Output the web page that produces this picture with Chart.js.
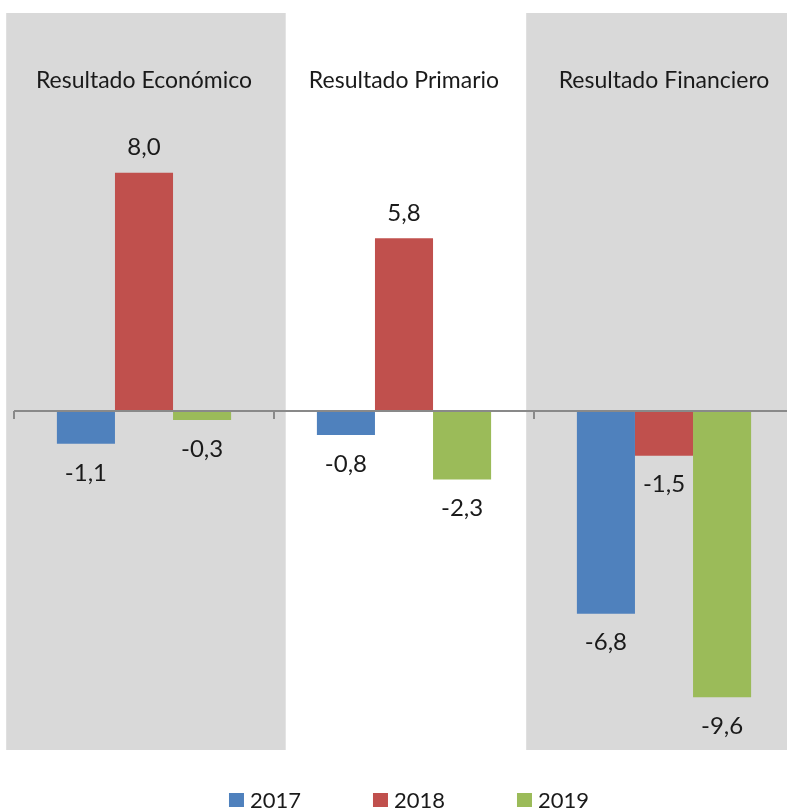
<!DOCTYPE html>
<html>
<head>
<meta charset="utf-8">
<script src="https://cdn.jsdelivr.net/npm/chart.js@4/dist/chart.umd.min.js"></script>
<style>
  html, body { margin: 0; padding: 0; background: #ffffff; overflow: hidden; }
  #wrap { width: 818px; height: 808px; position: relative; }
</style>
</head>
<body>
<div id="wrap"><canvas id="c"></canvas></div>
<script>
const categories = ["Resultado Económico", "Resultado Primario", "Resultado Financiero"];
const seriesNames = ["2017", "2018", "2019"];
const values2017 = [-1.1, -0.8, -6.8];
const values2018 = [8.0, 5.8, -1.5];
const values2019 = [-0.3, -2.3, -9.6];
const shadedCategories = [0, 2];

const colors = ["#4F81BD", "#C0504D", "#9BBB59"];
const FONT = "Lato, 'Noto Sans', sans-serif";

const fmt = v => v.toFixed(1).replace('.', ',');

const panelPlugin = {
  id: 'panels',
  beforeDatasetsDraw(chart) {
    const { ctx, chartArea, scales } = chart;
    const x = scales.x;
    const w = x.getPixelForValue(1) - x.getPixelForValue(0);
    ctx.save();
    ctx.fillStyle = '#D9D9D9';
    shadedCategories.forEach(i => {
      const c = x.getPixelForValue(i);
      ctx.fillRect(c - w * 0.53, chartArea.top + 1, w * 1.075, chartArea.bottom - chartArea.top);
    });
    // category titles
    ctx.fillStyle = '#1a1a1a';
    ctx.font = "23px " + FONT;
    ctx.textAlign = 'center';
    ctx.textBaseline = 'middle';
    categories.forEach((lab, i) => {
      ctx.fillText(lab, x.getPixelForValue(i), chartArea.top + 69);
    });
    ctx.restore();
  },
  afterDatasetsDraw(chart) {
    const { ctx, chartArea, scales } = chart;
    const x = scales.x, y = scales.y;
    const y0 = y.getPixelForValue(0);
    const w = x.getPixelForValue(1) - x.getPixelForValue(0);
    ctx.save();
    ctx.strokeStyle = '#898989';
    ctx.lineWidth = 2;
    ctx.beginPath();
    ctx.moveTo(chartArea.left, y0);
    ctx.lineTo(chartArea.right, y0);
    for (let i = 0; i <= categories.length; i++) {
      const bx = x.getPixelForValue(0) - w / 2 + i * w;
      ctx.moveTo(bx, y0);
      ctx.lineTo(bx, y0 + 8);
    }
    ctx.stroke();
    // data labels
    ctx.fillStyle = '#1a1a1a';
    ctx.font = "24px " + FONT;
    ctx.textAlign = 'center';
    ctx.textBaseline = 'middle';
    chart.data.datasets.forEach((ds, di) => {
      const meta = chart.getDatasetMeta(di);
      meta.data.forEach((bar, i) => {
        const v = ds.data[i];
        const ty = v >= 0 ? bar.y - 25 : bar.y + 29;
        ctx.fillText(fmt(v), bar.x, ty);
      });
    });
    ctx.restore();
  },
  afterDraw(chart) {
    const { ctx } = chart;
    ctx.save();
    ctx.font = "22px " + FONT;
    ctx.textBaseline = 'middle';
    ctx.textAlign = 'left';
    const spacing = 144;
    const box = 15;
    const items = chart.data.datasets.map(d => ({ label: d.label, color: d.backgroundColor }));
    const lastW = box + 6 + ctx.measureText(items[items.length - 1].label).width;
    const total = spacing * (items.length - 1) + lastW;
    let sx = chart.width / 2 - total / 2;
    const cy = 800;
    items.forEach((it, i) => {
      const bx = sx + i * spacing;
      ctx.fillStyle = it.color;
      ctx.fillRect(bx, cy - 7, box, 14);
      ctx.fillStyle = '#1a1a1a';
      ctx.fillText(it.label, bx + box + 6, cy + 1);
    });
    ctx.restore();
  }
};

new Chart(document.getElementById('c'), {
  type: 'bar',
  data: {
    labels: categories,
    datasets: [
      { label: seriesNames[0], data: values2017, backgroundColor: colors[0] },
      { label: seriesNames[1], data: values2018, backgroundColor: colors[1] },
      { label: seriesNames[2], data: values2019, backgroundColor: colors[2] }
    ]
  },
  options: {
    responsive: true,
    maintainAspectRatio: false,
    animation: false,
    layout: { padding: { left: 14, right: 24, top: 12, bottom: 59 } },
    datasets: { bar: { categoryPercentage: 0.67, barPercentage: 1.0 } },
    scales: {
      x: { display: false, grid: { display: false } },
      y: { display: false, min: -11.34, max: 13.39, grid: { display: false } }
    },
    plugins: { legend: { display: false }, tooltip: { enabled: false } }
  },
  plugins: [panelPlugin]
});
</script>
</body>
</html>
